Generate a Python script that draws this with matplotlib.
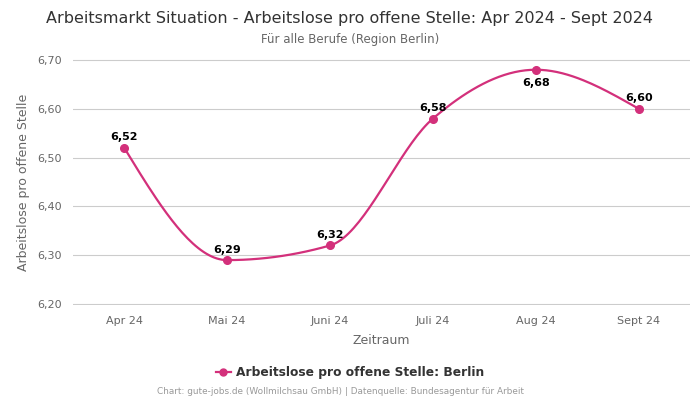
import matplotlib
matplotlib.use("Agg")
import matplotlib.pyplot as plt
import numpy as np

months = ["Apr 24", "Mai 24", "Juni 24", "Juli 24", "Aug 24", "Sept 24"]
values = [6.52, 6.29, 6.32, 6.58, 6.68, 6.60]
label_below = [False, False, False, False, True, False]

line_color = "#d3307b"


def monotone_curve(x, y, n=40):
    # monotone cubic (same idea as d3 curveMonotoneX)
    x = np.asarray(x, float)
    y = np.asarray(y, float)
    h = np.diff(x)
    s = np.diff(y) / h
    m = np.zeros_like(y)
    for i in range(1, len(y) - 1):
        p = (s[i - 1] * h[i] + s[i] * h[i - 1]) / (h[i - 1] + h[i])
        m[i] = (np.sign(s[i - 1]) + np.sign(s[i])) * min(abs(s[i - 1]), abs(s[i]), 0.5 * abs(p))
    m[0] = (3 * s[0] - m[1]) / 2
    m[-1] = (3 * s[-1] - m[-2]) / 2
    xs, ys = [], []
    for i in range(len(y) - 1):
        t = np.linspace(0, 1, n)
        h00 = 2 * t**3 - 3 * t**2 + 1
        h10 = t**3 - 2 * t**2 + t
        h01 = -2 * t**3 + 3 * t**2
        h11 = t**3 - t**2
        xs.append(x[i] + t * h[i])
        ys.append(h00 * y[i] + h10 * h[i] * m[i] + h01 * y[i + 1] + h11 * h[i] * m[i + 1])
    return np.concatenate(xs), np.concatenate(ys)


fig = plt.figure(figsize=(7, 4), dpi=100)
ax = fig.add_axes([0.104, 0.2375, 0.882, 0.615])

xpos = np.arange(len(months))
cx, cy = monotone_curve(xpos, values)
ax.plot(cx, cy, color=line_color, lw=1.6, zorder=3)
ax.plot(xpos, values, "o", color=line_color, ms=5.5, zorder=4)

for x, v, below in zip(xpos, values, label_below):
    txt = f"{v:.2f}".replace(".", ",")
    off = -13 if below else 4
    ax.annotate(txt, (x, v), xytext=(0, off), textcoords="offset points",
                ha="center", va="bottom", fontsize=8, fontweight="bold", color="black")

ax.set_xlim(-0.5, len(months) - 0.5)
ax.set_ylim(6.198, 6.702)
yt = [6.20, 6.30, 6.40, 6.50, 6.60, 6.70]
ax.set_yticks(yt)
ax.set_yticklabels([f"{t:.2f}".replace(".", ",") for t in yt])
ax.set_xticks(xpos)
ax.set_xticklabels(months)
ax.tick_params(axis="both", length=0, labelsize=8, colors="#666666", pad=8)
ax.grid(axis="y", color="#cccccc", lw=0.8)
ax.set_axisbelow(True)
for sp in ax.spines.values():
    sp.set_visible(False)

ax.set_xlabel("Zeitraum", fontsize=9, color="#666666", labelpad=6)
ax.set_ylabel("Arbeitslose pro offene Stelle", fontsize=9, color="#666666", labelpad=5)

fig.text(0.5, 0.955, "Arbeitsmarkt Situation - Arbeitslose pro offene Stelle: Apr 2024 - Sept 2024",
         ha="center", va="center", fontsize=11.5, color="#333333")
fig.text(0.5, 0.902, "Für alle Berufe (Region Berlin)", ha="center", va="center",
         fontsize=8.5, color="#666666")

# legend
ax.plot([], [], "-o", color=line_color, ms=5, lw=1.6, label="Arbeitslose pro offene Stelle: Berlin")
leg = fig.legend(loc="center", bbox_to_anchor=(0.5, 0.068), frameon=False, fontsize=8.8,
                 handlelength=1.2, handletextpad=0.4)
for t in leg.get_texts():
    t.set_fontweight("bold")
    t.set_color("#333333")

fig.text(0.486, 0.02, "Chart: gute-jobs.de (Wollmilchsau GmbH) | Datenquelle: Bundesagentur für Arbeit",
         ha="center", va="center", fontsize=6.4, color="#999999")

fig.savefig("out.png", dpi=100)
